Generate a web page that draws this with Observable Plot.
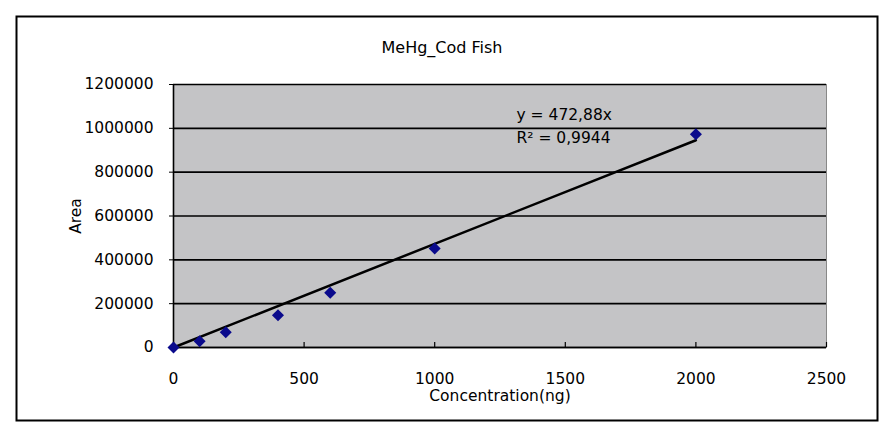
<!DOCTYPE html>
<html>
<head>
<meta charset="utf-8">
<script src="https://cdn.jsdelivr.net/npm/d3@7"></script>
<script src="https://cdn.jsdelivr.net/npm/@observablehq/plot@0.6"></script>
<style>
  html, body { margin: 0; padding: 0; background: #fff; }
  #chart { position: relative; width: 889px; height: 437px; }
  svg { font-family: "DejaVu Sans", sans-serif; }
</style>
</head>
<body>
<div id="chart"></div>
<script>
const title = "MeHg_Cod Fish";
const xLabel = "Concentration(ng)";
const yLabel = "Area";
const concentration = [0, 100, 200, 400, 600, 1000, 2000];
const area = [0, 28700, 69800, 147400, 249600, 451700, 973200];
const slope = 472.88;
const equationText = ["y = 472,88x", "R² = 0,9944"];
const xTicks = [0, 500, 1000, 1500, 2000, 2500];
const yTicks = [0, 200000, 400000, 600000, 800000, 1000000, 1200000];

const points = concentration.map((c, i) => ({x: c, y: area[i]}));
const trend = [0, d3.max(concentration)].map(c => ({x: c, y: slope * c}));

const plot = Plot.plot({
  width: 889,
  height: 437,
  marginLeft: 173,
  marginRight: 63,
  marginTop: 84,
  marginBottom: 90,
  style: {fontFamily: "'DejaVu Sans', sans-serif", fontSize: "15px", color: "#000", background: "#fff"},
  x: {domain: [0, 2500], ticks: xTicks},
  y: {domain: [0, 1200000], ticks: yTicks},
  marks: [
    Plot.frame({fill: "#c4c4c6", stroke: "#888"}),
    Plot.gridY(yTicks, {stroke: "#000", strokeOpacity: 1, strokeWidth: 1.6}),
    Plot.tickX(xTicks, {x: d => d, stroke: "#000", strokeWidth: 1.2, insetTop: 258}),
    Plot.ruleY([0], {stroke: "#000", strokeWidth: 1.6}),
    Plot.ruleX([0], {stroke: "#000", strokeWidth: 1.6}),
    Plot.axisY(yTicks, {tickFormat: d => String(d), tickSize: 4, tickPadding: 16, fontSize: 15.5,
      label: yLabel, labelAnchor: "center", labelOffset: 104, labelArrow: "none"}),
    Plot.axisX(xTicks, {tickFormat: d => String(d), tickSize: 0, tickPadding: 25, fontSize: 15.5,
      label: xLabel, labelAnchor: "center", labelOffset: 53, labelArrow: "none"}),
    Plot.line(trend, {x: "x", y: "y", stroke: "#000", strokeWidth: 2.5}),
    Plot.dot(points, {x: "x", y: "y", symbol: "square", rotate: 45, r: 4.8, fill: "#0a0a8c", stroke: "none"}),
    Plot.text([equationText[0]], {frameAnchor: "top-left", dx: 343, dy: 24, textAnchor: "start", fontSize: 15.5, fill: "#000"}),
    Plot.text([equationText[1]], {frameAnchor: "top-left", dx: 343, dy: 47, textAnchor: "start", fontSize: 15.5, fill: "#000"}),
    Plot.text([title], {frameAnchor: "top", dx: -58, dy: -43, fontSize: 16, fill: "#000"})
  ]
});

d3.select(plot).insert("rect", ":first-child")
  .attr("x", 16.5).attr("y", 16.5).attr("width", 861).attr("height", 404)
  .attr("fill", "none").attr("stroke", "#000").attr("stroke-width", 2);

document.getElementById("chart").appendChild(plot);
</script>
</body>
</html>
